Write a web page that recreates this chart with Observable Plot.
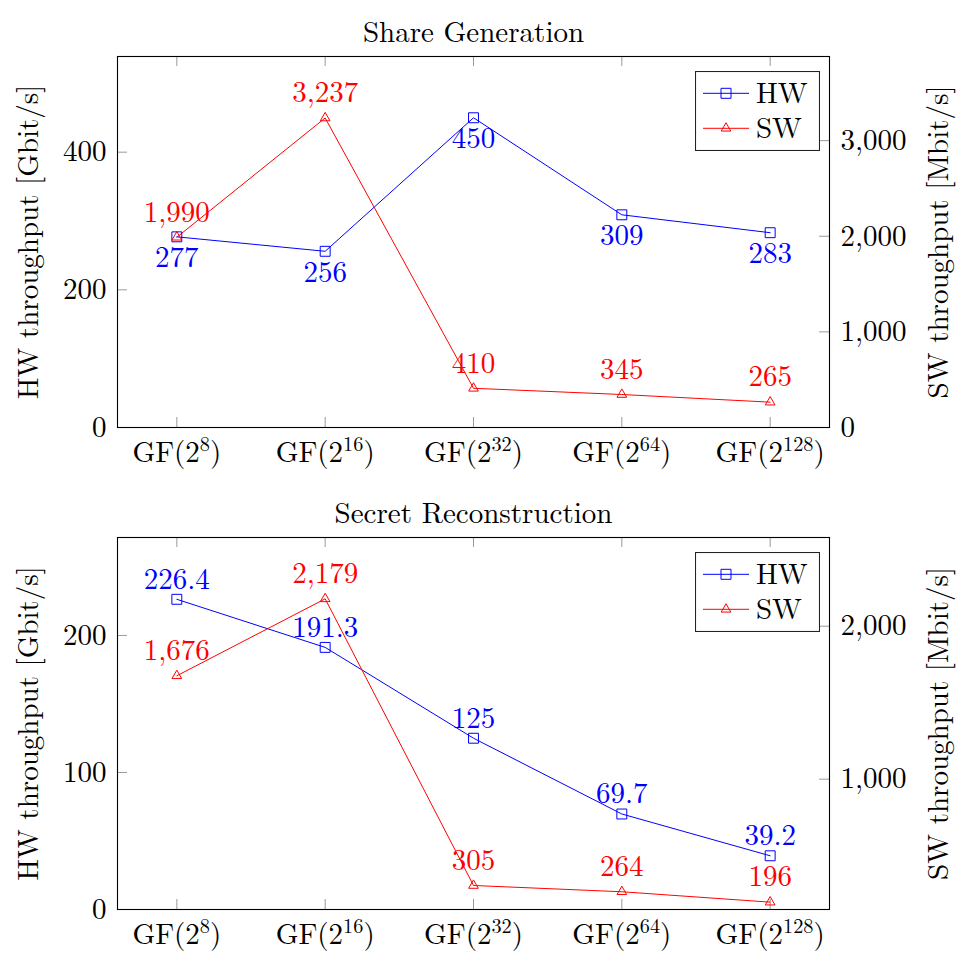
<!DOCTYPE html>
<html>
<head>
<meta charset="utf-8">
<script src="https://cdn.jsdelivr.net/npm/d3@7"></script>
<script src="https://cdn.jsdelivr.net/npm/@observablehq/plot@0.6"></script>
<style>
  html, body { margin: 0; padding: 0; background: white; }
  .panel { position: relative; width: 957px; }
  .legend { position: absolute; }
  svg { display: block; }
</style>
</head>
<body>
<div id="p1" class="panel"></div>
<div id="p2" class="panel"></div>
<script>
// ---- data ----
const exponents = [8, 16, 32, 64, 128];
const seriesNames = ["HW", "SW"];
const leftLabel = "HW throughput [Gbit/s]";
const rightLabel = "SW throughput [Mbit/s]";

const shareTitle = "Share Generation";
const shareHW = [277, 256, 450, 309, 283];
const shareSW = [1990, 3237, 410, 345, 265];
const shareLeftTicks = [0, 200, 400];
const shareRightTicks = [0, 1000, 2000, 3000];

const reconTitle = "Secret Reconstruction";
const reconHW = [226.4, 191.3, 125, 69.7, 39.2];
const reconSW = [1676, 2179, 305, 264, 196];
const reconLeftTicks = [0, 100, 200];
const reconRightTicks = [1000, 2000];

// ---- styling ----
const BLUE = "#0000ff", RED = "#ff0000";
const FONT = "'Latin Modern Roman', 'Liberation Serif', serif";
const FS = 29;
const fmtComma = d3.format(",");

function panel(el, {title, hw, sw, leftMax, rMin, rMax, leftTicks, rightTicks, hwBelow, height, marginTop, marginBottom}) {
  const W = 957, mL = 117, mR = 128;
  const fw = W - mL - mR, fh = height - marginTop - marginBottom;
  const toL = v => (v - rMin) / (rMax - rMin) * leftMax;
  const fromL = v => v / leftMax * (rMax - rMin) + rMin;
  const idx = exponents.map((_, i) => i);
  const data = idx.map(i => ({i, hw: hw[i], sw: sw[i], swL: toL(sw[i])}));
  const tickCol = "#9a9a9a";

  const svg = Plot.plot({
    width: W, height,
    marginLeft: mL, marginRight: mR, marginTop, marginBottom,
    x: {domain: [-0.4, 4.4]},
    y: {domain: [0, leftMax]},
    style: {fontFamily: FONT, fontSize: FS + "px", color: "black", background: "white", overflow: "visible"},
    marks: [
      Plot.ruleX(idx, {x: d => d, insetTop: fh - 10, stroke: tickCol}),
      Plot.ruleX(idx, {x: d => d, insetBottom: fh - 10, stroke: tickCol}),
      Plot.ruleY(leftTicks, {y: d => d, insetRight: fw - 10, stroke: tickCol}),
      Plot.ruleY(rightTicks.map(toL), {y: d => d, insetLeft: fw - 10, stroke: tickCol}),
      Plot.frame({stroke: "black", strokeWidth: 1.1}),
      Plot.axisX(idx, {tickSize: 0, tickPadding: 13.5, label: null, fontSize: FS,
        tickFormat: i => `GF(2^${exponents[i]})`}),
      Plot.axisY(leftTicks, {anchor: "left", tickSize: 0, tickPadding: 11, label: null, fontSize: FS}),
      Plot.axisY(rightTicks.map(toL), {anchor: "right", tickSize: 0, tickPadding: 11, label: null, fontSize: FS,
        tickFormat: v => fmtComma(Math.round(fromL(v)))}),
      Plot.line(data, {x: "i", y: "hw", stroke: BLUE, strokeWidth: 1}),
      Plot.line(data, {x: "i", y: "swL", stroke: RED, strokeWidth: 1}),
      Plot.dot(data, {x: "i", y: "hw", symbol: "square", r: 5.6, stroke: BLUE, fill: "none", strokeWidth: 1}),
      Plot.dot(data, {x: "i", y: "swL", symbol: "triangle", r: 3.6, stroke: RED, fill: "none", strokeWidth: 1}),
      Plot.text(data, {x: "i", y: "hw", text: d => String(d.hw), dy: hwBelow ? 21 : -20, fill: BLUE, fontSize: FS}),
      Plot.text(data, {x: "i", y: "swL", text: d => fmtComma(d.sw), dy: -25, fill: RED, fontSize: FS}),
      Plot.text([title], {frameAnchor: "top", dy: -35.3, fontSize: FS, fill: "black", textAnchor: "middle"}),
      Plot.text([leftLabel], {frameAnchor: "left", textAnchor: "middle", rotate: -90, dx: -88.5, fontSize: FS, fill: "black"}),
      Plot.text([rightLabel], {frameAnchor: "right", textAnchor: "middle", rotate: -90, dx: 109, fontSize: FS, fill: "black"})
    ]
  });

  // superscripts in x tick labels
  svg.querySelectorAll('g[aria-label="x-axis tick label"] text').forEach(t => {
    const m = /^GF\(2\^(\d+)\)$/.exec(t.textContent);
    if (!m) return;
    t.textContent = "";
    const ns = "http://www.w3.org/2000/svg";
    const a = document.createElementNS(ns, "tspan"); a.textContent = "GF(2";
    const s = document.createElementNS(ns, "tspan"); s.textContent = m[1];
    s.setAttribute("dy", "-10.3"); s.setAttribute("font-size", "20.3px");
    const b = document.createElementNS(ns, "tspan"); b.textContent = ")";
    b.setAttribute("dy", "10.3");
    t.append(a, s, b);
  });
  el.appendChild(svg);

  // legend (HTML overlay, top-right of the frame)
  const lw = 125, lh = 80;
  const leg = document.createElement("div");
  leg.className = "legend";
  leg.style.left = (mL + fw - 8.6 - lw) + "px";
  leg.style.top = (marginTop + 15.3) + "px";
  const lsvg = d3.create("svg").attr("width", lw).attr("height", lh)
    .style("font-family", FONT).style("font-size", FS + "px");
  lsvg.append("rect").attr("x", 0.5).attr("y", 0.5).attr("width", lw - 1).attr("height", lh - 1)
    .attr("fill", "white").attr("stroke", "#222").attr("stroke-width", 1.1);
  const items = [
    {name: seriesNames[0], color: BLUE, sym: d3.symbolSquare, size: 100},
    {name: seriesNames[1], color: RED, sym: d3.symbolTriangle, size: 40}
  ];
  items.forEach((it, k) => {
    const cy = 22.3 + k * 35;
    const g = lsvg.append("g");
    g.append("line").attr("x1", 8).attr("x2", 54).attr("y1", cy).attr("y2", cy)
      .attr("stroke", it.color).attr("stroke-width", 1);
    g.append("path").attr("d", d3.symbol(it.sym, it.size)())
      .attr("transform", `translate(31,${cy})`).attr("fill", "none").attr("stroke", it.color);
    g.append("text").attr("x", 61).attr("y", cy + 9.5).text(it.name).attr("fill", "black");
  });
  leg.appendChild(lsvg.node());
  el.appendChild(leg);
}

panel(document.getElementById("p1"), {
  title: shareTitle, hw: shareHW, sw: shareSW,
  leftMax: 539, rMin: 0, rMax: 3880,
  leftTicks: shareLeftTicks, rightTicks: shareRightTicks,
  hwBelow: true, height: 480, marginTop: 56, marginBottom: 53
});
panel(document.getElementById("p2"), {
  title: reconTitle, hw: reconHW, sw: reconSW,
  leftMax: 271.5, rMin: 148, rMax: 2580,
  leftTicks: reconLeftTicks, rightTicks: reconRightTicks,
  hwBelow: false, height: 473, marginTop: 57, marginBottom: 44
});
</script>
</body>
</html>
